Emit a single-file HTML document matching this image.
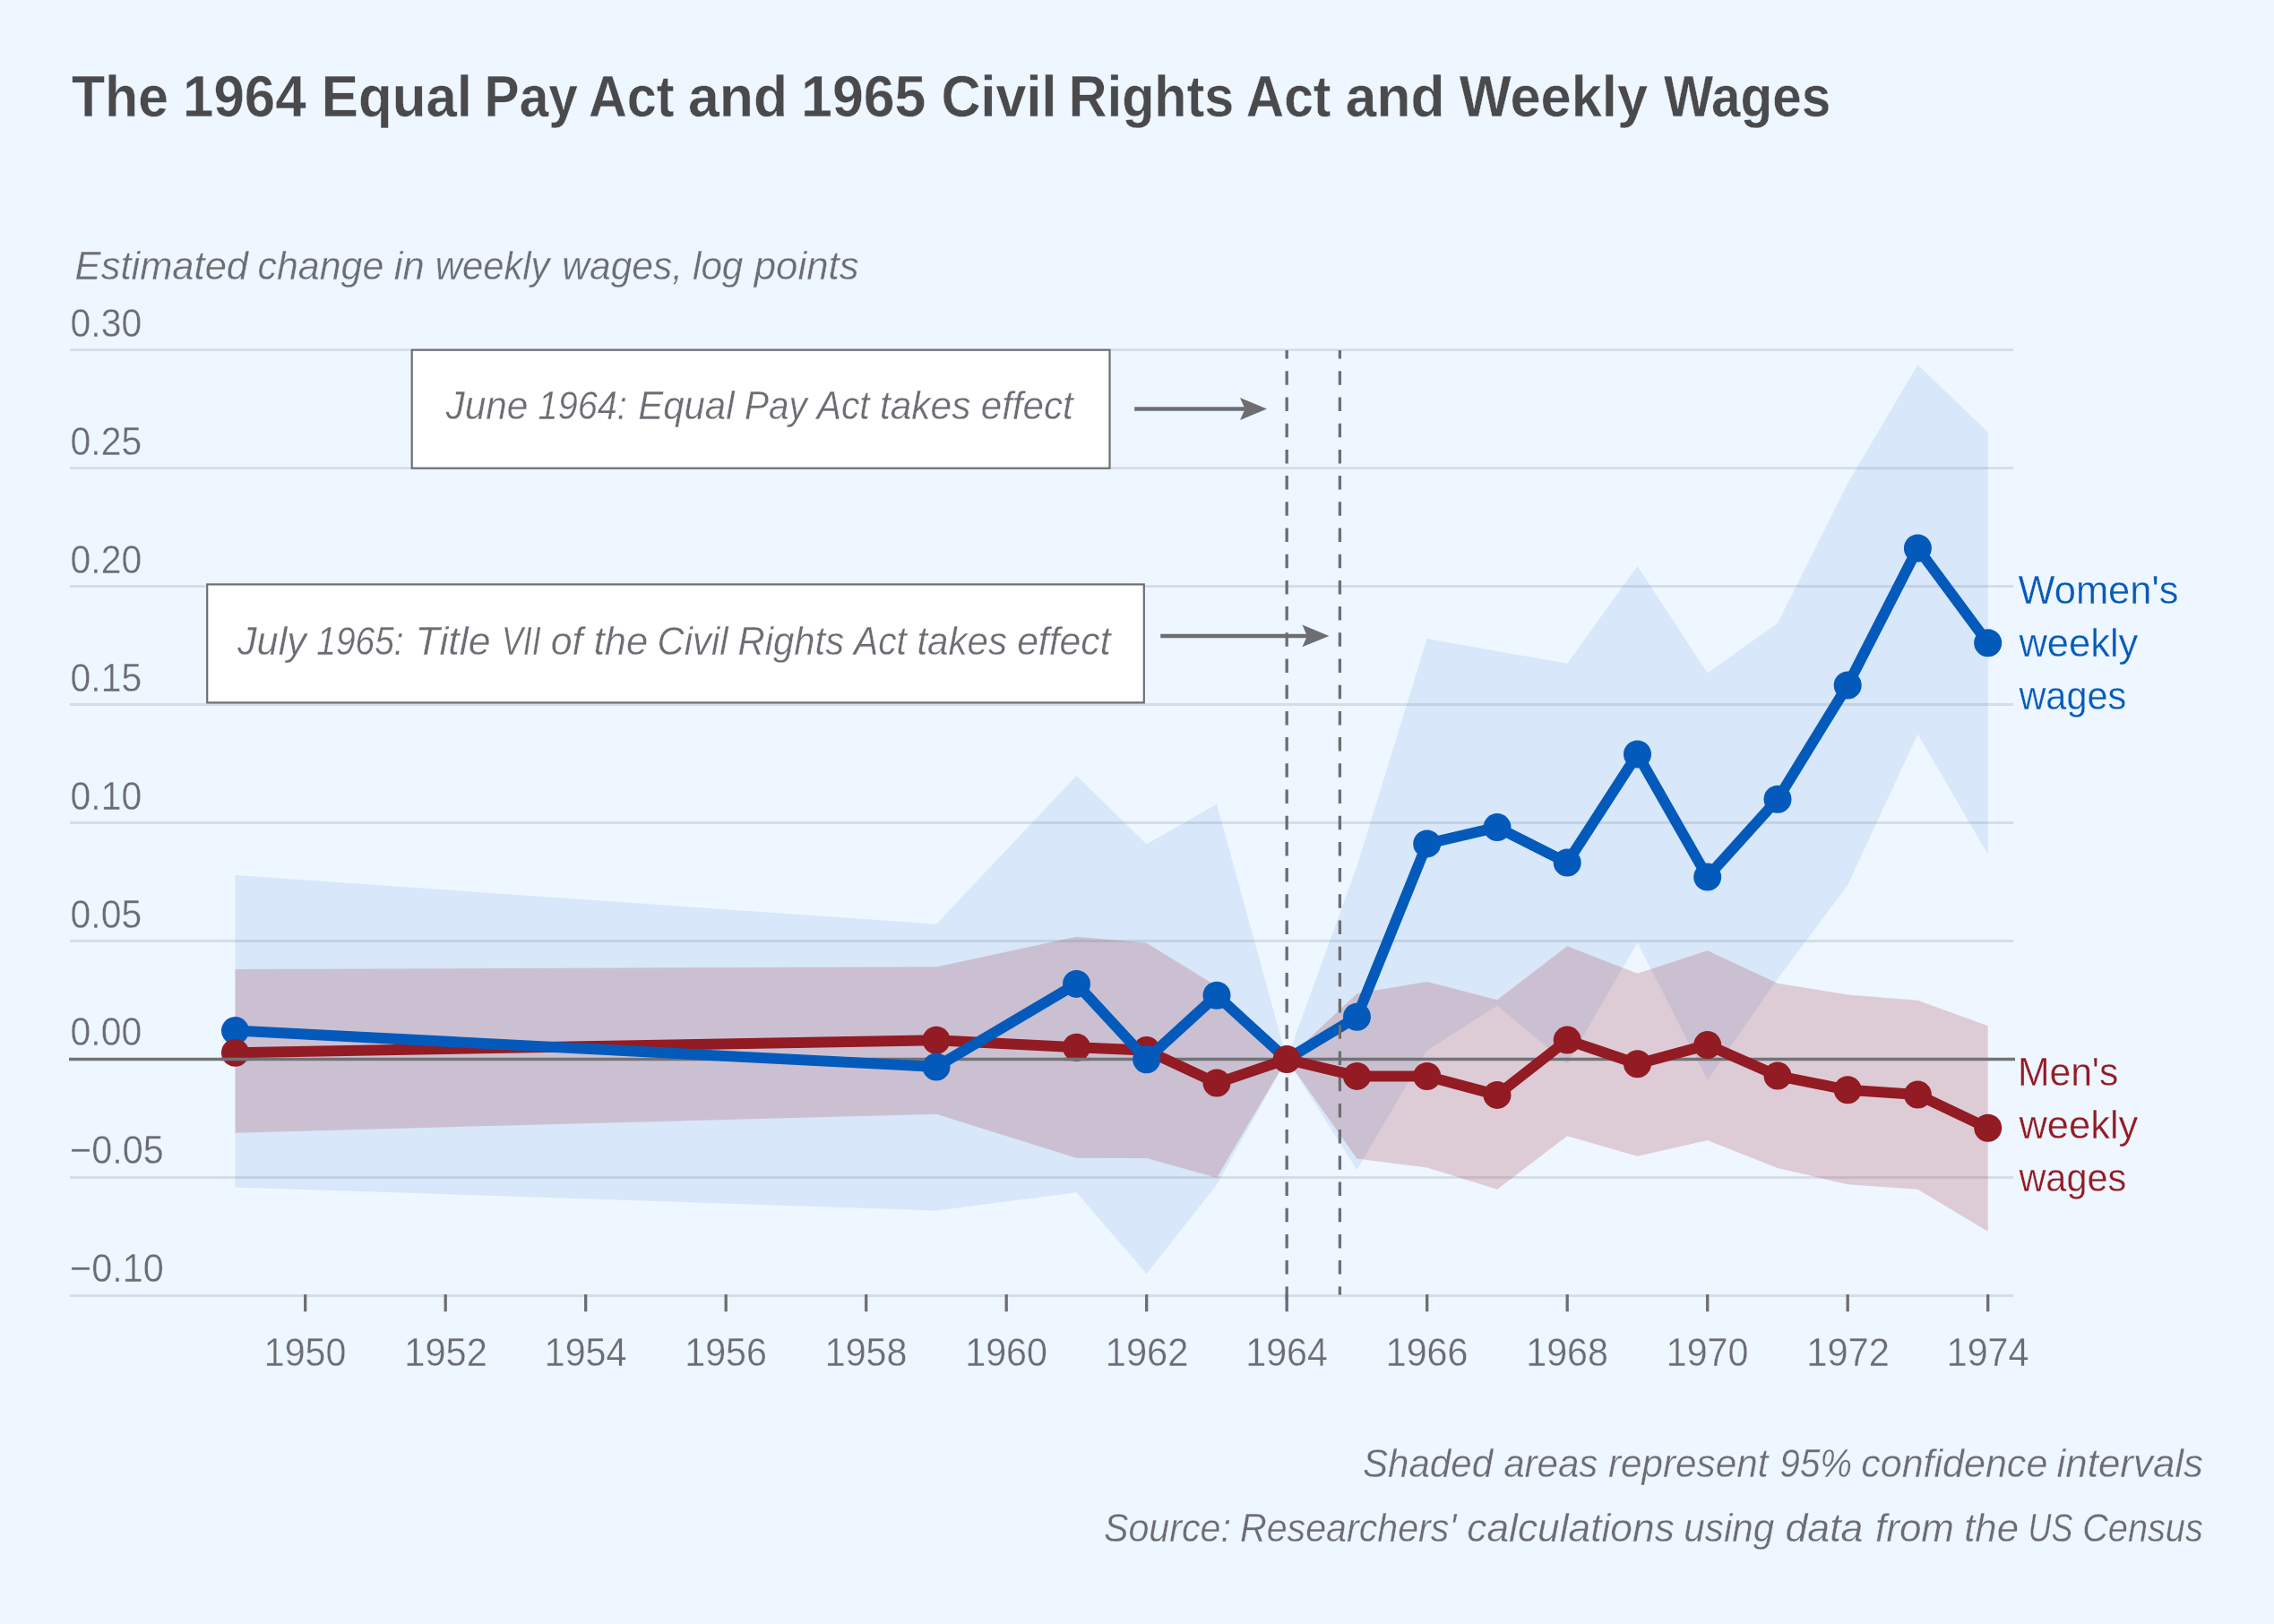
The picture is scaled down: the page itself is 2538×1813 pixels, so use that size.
<!DOCTYPE html>
<html lang="en"><head><meta charset="utf-8"><title>The 1964 Equal Pay Act and 1965 Civil Rights Act and Weekly Wages</title>
<style>html,body{margin:0;padding:0;background:#EEF6FF;}body{width:2538px;height:1813px;overflow:hidden;}svg{display:block;will-change:transform;}text{font-family:"Liberation Sans",sans-serif;}</style>
</head><body>
<svg width="2538" height="1813" viewBox="0 0 2538 1813" role="img" aria-label="Line chart of estimated change in weekly wages for women and men, 1949 to 1974">
<defs><mask id="tm" maskUnits="userSpaceOnUse" x="0" y="0" width="2538" height="1813"><rect width="2538" height="1813" fill="#fff"/></mask></defs>
<rect width="2538" height="1813" fill="#EEF6FF"/>
<g stroke="#D5DEE8" stroke-width="2.9" fill="none">
<line x1="78" x2="2247.2" y1="390.60" y2="390.60"/>
<line x1="78" x2="2247.2" y1="522.58" y2="522.58"/>
<line x1="78" x2="2247.2" y1="654.56" y2="654.56"/>
<line x1="78" x2="2247.2" y1="786.54" y2="786.54"/>
<line x1="78" x2="2247.2" y1="918.52" y2="918.52"/>
<line x1="78" x2="2247.2" y1="1050.50" y2="1050.50"/>
<line x1="78" x2="2247.2" y1="1314.46" y2="1314.46"/>
<line x1="78" x2="2247.2" y1="1446.44" y2="1446.44"/>
</g>
<polygon points="262.5,977.1 1045.0,1031.7 1201.5,866.1 1279.7,942.4 1358.0,897.7 1436.2,1182.6 1514.5,967.0 1592.7,713.1 1671.0,727.1 1749.2,740.7 1827.5,632.0 1905.7,751.3 1984.0,695.8 2062.2,539.6 2140.4,407.3 2218.7,482.4 2218.7,953.8 2140.4,819.5 2062.2,988.0 1984.0,1092.8 1905.7,1205.8 1827.5,1052.2 1749.2,1187.7 1671.0,1122.7 1592.7,1172.8 1514.5,1306.0 1436.2,1182.6 1358.0,1322.6 1279.7,1422.0 1201.5,1331.3 1045.0,1351.4 262.5,1325.4" fill="#045ABB" fill-opacity="0.09"/>
<polygon points="262.5,1082.0 1045.0,1079.4 1201.5,1045.8 1279.7,1052.7 1358.0,1101.0 1436.2,1182.6 1514.5,1109.2 1592.7,1096.1 1671.0,1116.2 1749.2,1056.2 1827.5,1086.7 1905.7,1061.2 1984.0,1097.8 2062.2,1110.4 2140.4,1116.7 2218.7,1145.3 2218.7,1374.7 2140.4,1327.8 2062.2,1322.2 1984.0,1303.9 1905.7,1273.0 1827.5,1290.7 1749.2,1268.2 1671.0,1327.8 1592.7,1303.4 1514.5,1293.6 1436.2,1182.6 1358.0,1314.7 1279.7,1293.1 1201.5,1292.8 1045.0,1243.7 262.5,1264.7" fill="#931B23" fill-opacity="0.19"/>
<line x1="77" x2="2249" y1="1182.48" y2="1182.48" stroke="#727377" stroke-width="3.5"/>
<g stroke="#6D6E72" stroke-width="3.3">
<line x1="340.70" x2="340.70" y1="1445" y2="1464.2"/>
<line x1="497.20" x2="497.20" y1="1445" y2="1464.2"/>
<line x1="653.70" x2="653.70" y1="1445" y2="1464.2"/>
<line x1="810.20" x2="810.20" y1="1445" y2="1464.2"/>
<line x1="966.70" x2="966.70" y1="1445" y2="1464.2"/>
<line x1="1123.20" x2="1123.20" y1="1445" y2="1464.2"/>
<line x1="1279.70" x2="1279.70" y1="1445" y2="1464.2"/>
<line x1="1436.20" x2="1436.20" y1="1445" y2="1464.2"/>
<line x1="1592.70" x2="1592.70" y1="1445" y2="1464.2"/>
<line x1="1749.20" x2="1749.20" y1="1445" y2="1464.2"/>
<line x1="1905.70" x2="1905.70" y1="1445" y2="1464.2"/>
<line x1="2062.20" x2="2062.20" y1="1445" y2="1464.2"/>
<line x1="2218.70" x2="2218.70" y1="1445" y2="1464.2"/>
</g>
<polyline points="262.5,1175.2 1045.0,1161.2 1201.5,1169.3 1279.7,1172.6 1358.0,1209.1 1436.2,1182.6 1514.5,1201.4 1592.7,1201.5 1671.0,1222.4 1749.2,1161.1 1827.5,1187.7 1905.7,1166.6 1984.0,1201.1 2062.2,1216.8 2140.4,1222.1 2218.7,1259.3" fill="none" stroke="#931B23" stroke-width="12" stroke-linejoin="round"/>
<circle cx="1045.0" cy="1161.2" r="15.5" fill="#931B23"/>
<circle cx="1201.5" cy="1169.3" r="15.5" fill="#931B23"/>
<circle cx="1279.7" cy="1172.6" r="15.5" fill="#931B23"/>
<circle cx="1358.0" cy="1209.1" r="15.5" fill="#931B23"/>
<circle cx="1514.5" cy="1201.4" r="15.5" fill="#931B23"/>
<circle cx="1592.7" cy="1201.5" r="15.5" fill="#931B23"/>
<circle cx="1671.0" cy="1222.4" r="15.5" fill="#931B23"/>
<circle cx="1749.2" cy="1161.1" r="15.5" fill="#931B23"/>
<circle cx="1827.5" cy="1187.7" r="15.5" fill="#931B23"/>
<circle cx="1905.7" cy="1166.6" r="15.5" fill="#931B23"/>
<circle cx="1984.0" cy="1201.1" r="15.5" fill="#931B23"/>
<circle cx="2062.2" cy="1216.8" r="15.5" fill="#931B23"/>
<circle cx="2140.4" cy="1222.1" r="15.5" fill="#931B23"/>
<circle cx="2218.7" cy="1259.3" r="15.5" fill="#931B23"/>
<polyline points="262.5,1150.6 1045.0,1191.0 1201.5,1098.4 1279.7,1182.8 1358.0,1111.2 1436.2,1182.6 1514.5,1135.3 1592.7,941.9 1671.0,923.6 1749.2,963.1 1827.5,842.0 1905.7,979.1 1984.0,892.3 2062.2,765.0 2140.4,612.0 2218.7,717.8" fill="none" stroke="#045ABB" stroke-width="12" stroke-linejoin="round"/>
<g stroke="#6D6E72" stroke-width="3.3" stroke-dasharray="15.5 13.7" stroke-dashoffset="5.9" fill="none">
<line x1="1436.20" x2="1436.20" y1="391" y2="1452"/>
<line x1="1495.4" x2="1495.4" y1="391" y2="1445.6"/>
</g>
<circle cx="262.5" cy="1150.6" r="15.5" fill="#045ABB"/>
<circle cx="1045.0" cy="1191.0" r="15.5" fill="#045ABB"/>
<circle cx="1201.5" cy="1098.4" r="15.5" fill="#045ABB"/>
<circle cx="1279.7" cy="1182.8" r="15.5" fill="#045ABB"/>
<circle cx="1358.0" cy="1111.2" r="15.5" fill="#045ABB"/>
<circle cx="1514.5" cy="1135.3" r="15.5" fill="#045ABB"/>
<circle cx="1592.7" cy="941.9" r="15.5" fill="#045ABB"/>
<circle cx="1671.0" cy="923.6" r="15.5" fill="#045ABB"/>
<circle cx="1749.2" cy="963.1" r="15.5" fill="#045ABB"/>
<circle cx="1827.5" cy="842.0" r="15.5" fill="#045ABB"/>
<circle cx="1905.7" cy="979.1" r="15.5" fill="#045ABB"/>
<circle cx="1984.0" cy="892.3" r="15.5" fill="#045ABB"/>
<circle cx="2062.2" cy="765.0" r="15.5" fill="#045ABB"/>
<circle cx="2140.4" cy="612.0" r="15.5" fill="#045ABB"/>
<circle cx="2218.7" cy="717.8" r="15.5" fill="#045ABB"/>
<circle cx="262.5" cy="1175.2" r="15.5" fill="#931B23"/>
<circle cx="1436.2" cy="1182.6" r="15.5" fill="#931B23"/>
<g stroke="#727377" stroke-width="3.5"><line x1="246.5" x2="278.5" y1="1182.48" y2="1182.48"/><line x1="1187" x2="1216" y1="1182.48" y2="1182.48"/></g>
<rect x="459.7" y="390.7" width="778.8" height="132" fill="#FFFFFF" stroke="#6D6E72" stroke-width="2.2"/>
<rect x="231.2" y="652.4" width="1045.6" height="132" fill="#FFFFFF" stroke="#6D6E72" stroke-width="2.2"/>
<line x1="1266.2" x2="1392" y1="456.5" y2="456.5" stroke="#6D6E72" stroke-width="4.5"/><path d="M1414,456.5 L1384,444.1 L1389.5,456.5 L1384,468.9 Z" fill="#6D6E72"/>
<line x1="1295.2" x2="1461.4" y1="709.9" y2="709.9" stroke="#6D6E72" stroke-width="4.5"/><path d="M1483.4,709.9 L1453.4,697.5 L1458.9,709.9 L1453.4,722.3 Z" fill="#6D6E72"/>
<g mask="url(#tm)">
<text id="title" y="130.0" font-size="65.2" fill="#4A4A4D" font-weight="bold" stroke="#EEF6FF" stroke-width="0.4"><tspan x="80.0" textLength="107.98" lengthAdjust="spacingAndGlyphs">The</tspan> <tspan x="204.0" textLength="137.73" lengthAdjust="spacingAndGlyphs">1964</tspan> <tspan x="358.81" textLength="168.14" lengthAdjust="spacingAndGlyphs">Equal</tspan> <tspan x="540.6" textLength="104.3" lengthAdjust="spacingAndGlyphs">Pay</tspan> <tspan x="656.88" textLength="95.66" lengthAdjust="spacingAndGlyphs">Act</tspan> <tspan x="767.98" textLength="111.16" lengthAdjust="spacingAndGlyphs">and</tspan> <tspan x="894.06" textLength="139.33" lengthAdjust="spacingAndGlyphs">1965</tspan> <tspan x="1050.53" textLength="128.84" lengthAdjust="spacingAndGlyphs">Civil</tspan> <tspan x="1192.86" textLength="184.38" lengthAdjust="spacingAndGlyphs">Rights</tspan> <tspan x="1390.8" textLength="94.54" lengthAdjust="spacingAndGlyphs">Act</tspan> <tspan x="1501.79" textLength="110.64" lengthAdjust="spacingAndGlyphs">and</tspan> <tspan x="1628.7" textLength="210.36" lengthAdjust="spacingAndGlyphs">Weekly</tspan> <tspan x="1857.1" textLength="186.12" lengthAdjust="spacingAndGlyphs">Wages</tspan></text>
<text id="sub" y="311.6" font-size="44.0" fill="#6B6D72" font-style="italic" stroke="#EEF6FF" stroke-width="0.35"><tspan x="83.61" textLength="193.44" lengthAdjust="spacingAndGlyphs">Estimated</tspan> <tspan x="287.52" textLength="140.83" lengthAdjust="spacingAndGlyphs">change</tspan> <tspan x="439.8" textLength="33.94" lengthAdjust="spacingAndGlyphs">in</tspan> <tspan x="485.8" textLength="127.63" lengthAdjust="spacingAndGlyphs">weekly</tspan> <tspan x="627.37" textLength="134.7" lengthAdjust="spacingAndGlyphs">wages,</tspan> <tspan x="773.0" textLength="56.33" lengthAdjust="spacingAndGlyphs">log</tspan> <tspan x="841.7" textLength="116.92" lengthAdjust="spacingAndGlyphs">points</tspan></text>
<text id="y0" y="375.6" font-size="44.0" fill="#6B6D72" stroke="#EEF6FF" stroke-width="0.35" x="78.57" textLength="79.63" lengthAdjust="spacingAndGlyphs">0.30</text>
<text id="y1" y="507.58" font-size="44.0" fill="#6B6D72" stroke="#EEF6FF" stroke-width="0.35" x="78.57" textLength="79.63" lengthAdjust="spacingAndGlyphs">0.25</text>
<text id="y2" y="639.56" font-size="44.0" fill="#6B6D72" stroke="#EEF6FF" stroke-width="0.35" x="78.57" textLength="79.63" lengthAdjust="spacingAndGlyphs">0.20</text>
<text id="y3" y="771.54" font-size="44.0" fill="#6B6D72" stroke="#EEF6FF" stroke-width="0.35" x="78.57" textLength="79.63" lengthAdjust="spacingAndGlyphs">0.15</text>
<text id="y4" y="903.52" font-size="44.0" fill="#6B6D72" stroke="#EEF6FF" stroke-width="0.35" x="78.57" textLength="79.63" lengthAdjust="spacingAndGlyphs">0.10</text>
<text id="y5" y="1035.5" font-size="44.0" fill="#6B6D72" stroke="#EEF6FF" stroke-width="0.35" x="78.57" textLength="79.63" lengthAdjust="spacingAndGlyphs">0.05</text>
<text id="y6" y="1167.48" font-size="44.0" fill="#6B6D72" stroke="#EEF6FF" stroke-width="0.35" x="78.57" textLength="79.63" lengthAdjust="spacingAndGlyphs">0.00</text>
<text id="y7" y="1299.46" font-size="44.0" fill="#6B6D72" stroke="#EEF6FF" stroke-width="0.35" x="78.02" textLength="104.75" lengthAdjust="spacingAndGlyphs">−0.05</text>
<text id="y8" y="1431.44" font-size="44.0" fill="#6B6D72" stroke="#EEF6FF" stroke-width="0.35" x="78.02" textLength="104.75" lengthAdjust="spacingAndGlyphs">−0.10</text>
<text id="x1950" y="1524.6" font-size="44.0" fill="#6B6D72" stroke="#EEF6FF" stroke-width="0.35" x="294.79" textLength="91.64" lengthAdjust="spacingAndGlyphs">1950</text>
<text id="x1952" y="1524.6" font-size="44.0" fill="#6B6D72" stroke="#EEF6FF" stroke-width="0.35" x="451.26" textLength="92.63" lengthAdjust="spacingAndGlyphs">1952</text>
<text id="x1954" y="1524.6" font-size="44.0" fill="#6B6D72" stroke="#EEF6FF" stroke-width="0.35" x="607.79" textLength="91.64" lengthAdjust="spacingAndGlyphs">1954</text>
<text id="x1956" y="1524.6" font-size="44.0" fill="#6B6D72" stroke="#EEF6FF" stroke-width="0.35" x="764.29" textLength="91.64" lengthAdjust="spacingAndGlyphs">1956</text>
<text id="x1958" y="1524.6" font-size="44.0" fill="#6B6D72" stroke="#EEF6FF" stroke-width="0.35" x="920.79" textLength="91.64" lengthAdjust="spacingAndGlyphs">1958</text>
<text id="x1960" y="1524.6" font-size="44.0" fill="#6B6D72" stroke="#EEF6FF" stroke-width="0.35" x="1077.29" textLength="91.64" lengthAdjust="spacingAndGlyphs">1960</text>
<text id="x1962" y="1524.6" font-size="44.0" fill="#6B6D72" stroke="#EEF6FF" stroke-width="0.35" x="1233.76" textLength="92.63" lengthAdjust="spacingAndGlyphs">1962</text>
<text id="x1964" y="1524.6" font-size="44.0" fill="#6B6D72" stroke="#EEF6FF" stroke-width="0.35" x="1390.29" textLength="91.64" lengthAdjust="spacingAndGlyphs">1964</text>
<text id="x1966" y="1524.6" font-size="44.0" fill="#6B6D72" stroke="#EEF6FF" stroke-width="0.35" x="1546.79" textLength="91.64" lengthAdjust="spacingAndGlyphs">1966</text>
<text id="x1968" y="1524.6" font-size="44.0" fill="#6B6D72" stroke="#EEF6FF" stroke-width="0.35" x="1703.29" textLength="91.64" lengthAdjust="spacingAndGlyphs">1968</text>
<text id="x1970" y="1524.6" font-size="44.0" fill="#6B6D72" stroke="#EEF6FF" stroke-width="0.35" x="1859.79" textLength="91.64" lengthAdjust="spacingAndGlyphs">1970</text>
<text id="x1972" y="1524.6" font-size="44.0" fill="#6B6D72" stroke="#EEF6FF" stroke-width="0.35" x="2016.26" textLength="92.63" lengthAdjust="spacingAndGlyphs">1972</text>
<text id="x1974" y="1524.6" font-size="44.0" fill="#6B6D72" stroke="#EEF6FF" stroke-width="0.35" x="2172.79" textLength="91.64" lengthAdjust="spacingAndGlyphs">1974</text>
<text id="box1" y="468.0" font-size="44.0" fill="#6B6D72" font-style="italic" stroke="#FFFFFF" stroke-width="0.35"><tspan x="497.5" textLength="91.91" lengthAdjust="spacingAndGlyphs">June</tspan> <tspan x="600.6" textLength="99.3" lengthAdjust="spacingAndGlyphs">1964:</tspan> <tspan x="712.15" textLength="107.37" lengthAdjust="spacingAndGlyphs">Equal</tspan> <tspan x="830.88" textLength="69.82" lengthAdjust="spacingAndGlyphs">Pay</tspan> <tspan x="911.75" textLength="58.93" lengthAdjust="spacingAndGlyphs">Act</tspan> <tspan x="981.94" textLength="101.43" lengthAdjust="spacingAndGlyphs">takes</tspan> <tspan x="1094.74" textLength="102.98" lengthAdjust="spacingAndGlyphs">effect</tspan></text>
<text id="box2" y="730.7" font-size="44.0" fill="#6B6D72" font-style="italic" stroke="#FFFFFF" stroke-width="0.35"><tspan x="265.0" textLength="76.9" lengthAdjust="spacingAndGlyphs">July</tspan> <tspan x="353.32" textLength="97.26" lengthAdjust="spacingAndGlyphs">1965:</tspan> <tspan x="463.54" textLength="84.02" lengthAdjust="spacingAndGlyphs">Title</tspan> <tspan x="559.94" textLength="43.79" lengthAdjust="spacingAndGlyphs">VII</tspan> <tspan x="614.63" textLength="35.69" lengthAdjust="spacingAndGlyphs">of</tspan> <tspan x="662.71" textLength="60.45" lengthAdjust="spacingAndGlyphs">the</tspan> <tspan x="733.6" textLength="78.85" lengthAdjust="spacingAndGlyphs">Civil</tspan> <tspan x="823.55" textLength="118.53" lengthAdjust="spacingAndGlyphs">Rights</tspan> <tspan x="952.95" textLength="58.93" lengthAdjust="spacingAndGlyphs">Act</tspan> <tspan x="1023.44" textLength="100.52" lengthAdjust="spacingAndGlyphs">takes</tspan> <tspan x="1135.13" textLength="104.37" lengthAdjust="spacingAndGlyphs">effect</tspan></text>
<text id="w1" y="673.6" font-size="44.0" fill="#045ABB" stroke="#EEF6FF" stroke-width="0.35" x="2252.5" textLength="178.99" lengthAdjust="spacingAndGlyphs">Women's</text>
<text id="w2" y="732.6" font-size="44.0" fill="#045ABB" stroke="#EEF6FF" stroke-width="0.35" x="2253.4" textLength="132.91" lengthAdjust="spacingAndGlyphs">weekly</text>
<text id="w3" y="791.6" font-size="44.0" fill="#045ABB" stroke="#EEF6FF" stroke-width="0.35" x="2253.4" textLength="119.82" lengthAdjust="spacingAndGlyphs">wages</text>
<text id="m1" y="1211.8" font-size="44.0" fill="#931B23" stroke="#EEF6FF" stroke-width="0.35" x="2251.89" textLength="112.48" lengthAdjust="spacingAndGlyphs">Men's</text>
<text id="m2" y="1270.8" font-size="44.0" fill="#931B23" stroke="#EEF6FF" stroke-width="0.35" x="2253.4" textLength="132.91" lengthAdjust="spacingAndGlyphs">weekly</text>
<text id="m3" y="1330.0" font-size="44.0" fill="#931B23" stroke="#EEF6FF" stroke-width="0.35" x="2253.4" textLength="119.82" lengthAdjust="spacingAndGlyphs">wages</text>
<text id="f1" y="1649.0" font-size="44.0" fill="#6B6D72" font-style="italic" stroke="#EEF6FF" stroke-width="0.35"><tspan x="1521.04" textLength="145.02" lengthAdjust="spacingAndGlyphs">Shaded</tspan> <tspan x="1678.2" textLength="105.13" lengthAdjust="spacingAndGlyphs">areas</tspan> <tspan x="1795.0" textLength="178.38" lengthAdjust="spacingAndGlyphs">represent</tspan> <tspan x="1986.59" textLength="80.4" lengthAdjust="spacingAndGlyphs">95%</tspan> <tspan x="2077.22" textLength="208.09" lengthAdjust="spacingAndGlyphs">confidence</tspan> <tspan x="2295.6" textLength="163.44" lengthAdjust="spacingAndGlyphs">intervals</tspan></text>
<text id="f2" y="1721.0" font-size="44.0" fill="#6B6D72" font-style="italic" stroke="#EEF6FF" stroke-width="0.35"><tspan x="1231.96" textLength="141.97" lengthAdjust="spacingAndGlyphs">Source:</tspan> <tspan x="1383.96" textLength="241.35" lengthAdjust="spacingAndGlyphs">Researchers'</tspan> <tspan x="1637.29" textLength="231.52" lengthAdjust="spacingAndGlyphs">calculations</tspan> <tspan x="1879.34" textLength="100.84" lengthAdjust="spacingAndGlyphs">using</tspan> <tspan x="1992.48" textLength="86.97" lengthAdjust="spacingAndGlyphs">data</tspan> <tspan x="2093.0" textLength="88.0" lengthAdjust="spacingAndGlyphs">from</tspan> <tspan x="2192.21" textLength="60.76" lengthAdjust="spacingAndGlyphs">the</tspan> <tspan x="2263.55" textLength="49.85" lengthAdjust="spacingAndGlyphs">US</tspan> <tspan x="2324.2" textLength="134.57" lengthAdjust="spacingAndGlyphs">Census</tspan></text>
</g>
</svg></body></html>
